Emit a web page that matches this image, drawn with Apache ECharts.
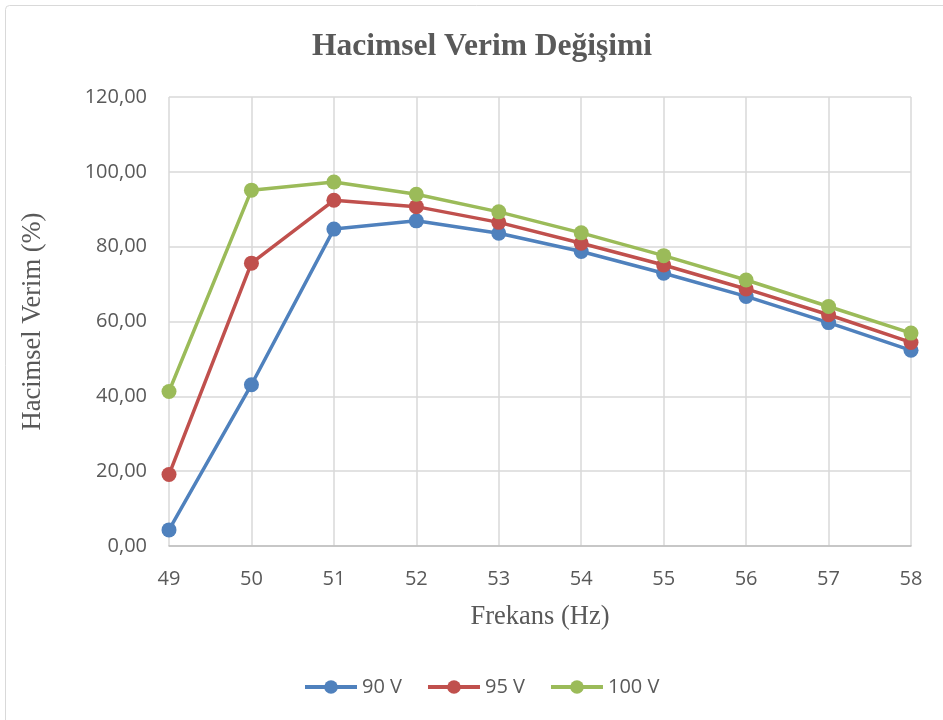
<!DOCTYPE html>
<html>
<head>
<meta charset="utf-8">
<script src="https://cdn.jsdelivr.net/npm/echarts@6/dist/echarts.min.js"></script>
<style>html,body{margin:0;padding:0;background:#fff}#c{width:943px;height:720px}</style>
</head>
<body>
<div id="c"></div>
<script>
const categories = ['49','50','51','52','53','54','55','56','57','58'];
const seriesNames = ['90 V','95 V','100 V'];
const v90  = [4.3, 43.1, 84.7, 86.9, 83.6, 78.7, 72.9, 66.7, 59.7, 52.3];
const v95  = [19.1, 75.6, 92.4, 90.7, 86.5, 80.9, 75.1, 68.7, 61.8, 54.4];
const v100 = [41.3, 95.1, 97.3, 94.0, 89.3, 83.7, 77.6, 71.1, 64.0, 56.9];
const colors = ['#4f81bd','#c0504d','#9bbb59'];

const chart = echarts.init(document.getElementById('c'), null, {renderer:'canvas'});
const mk = (name, data, color) => ({
  name, type:'line', data, symbol:'circle', symbolSize:15,
  itemStyle:{color}, lineStyle:{color, width:3.5}, animation:false
});
chart.setOption({
  animation:false,
  backgroundColor:'#fff',
  graphic:[{type:'rect', shape:{x:5.5,y:5.5,width:960,height:740,r:4}, style:{fill:'none',stroke:'#d9d9d9',lineWidth:1}, z:-1}],
  title:{text:'Hacimsel Verim Değişimi', left:477, top:26, textAlign:'center',
    textStyle:{fontFamily:'Liberation Serif', fontWeight:'bold', fontSize:31.5, color:'#595959'}},
  grid:{left:169, right:32, top:97, bottom:174},
  legend:{data:seriesNames, left:298, top:672, itemWidth:52, itemHeight:17, itemGap:24,
    lineStyle:{width:4},
    textStyle:{fontFamily:'Open Sans', fontSize:20, color:'#595959'}},
  xAxis:{type:'category', data:categories, boundaryGap:false,
    name:'Frekans (Hz)', nameLocation:'middle', nameGap:58,
    nameTextStyle:{fontFamily:'Liberation Serif', fontSize:26.5, color:'#595959'},
    axisLine:{lineStyle:{color:'#bfbfbf', width:1.5}}, axisTick:{show:false},
    axisLabel:{fontFamily:'Open Sans', fontSize:20, color:'#595959', margin:23},
    splitLine:{show:true, lineStyle:{color:'#d9d9d9', width:1.5}}},
  yAxis:{type:'value', min:0, max:120, interval:20,
    name:'Hacimsel Verim (%)', nameLocation:'middle', nameGap:122,
    nameTextStyle:{fontFamily:'Liberation Serif', fontSize:26.5, color:'#595959'},
    axisLine:{show:false}, axisTick:{show:false},
    axisLabel:{fontFamily:'Open Sans', fontSize:20, color:'#595959', margin:22,
      formatter:v=>v.toFixed(2).replace('.',',')},
    splitLine:{lineStyle:{color:'#d9d9d9', width:1.5}}},
  series:[mk(seriesNames[0], v90, colors[0]), mk(seriesNames[1], v95, colors[1]), mk(seriesNames[2], v100, colors[2])]
});
</script>
</body>
</html>
